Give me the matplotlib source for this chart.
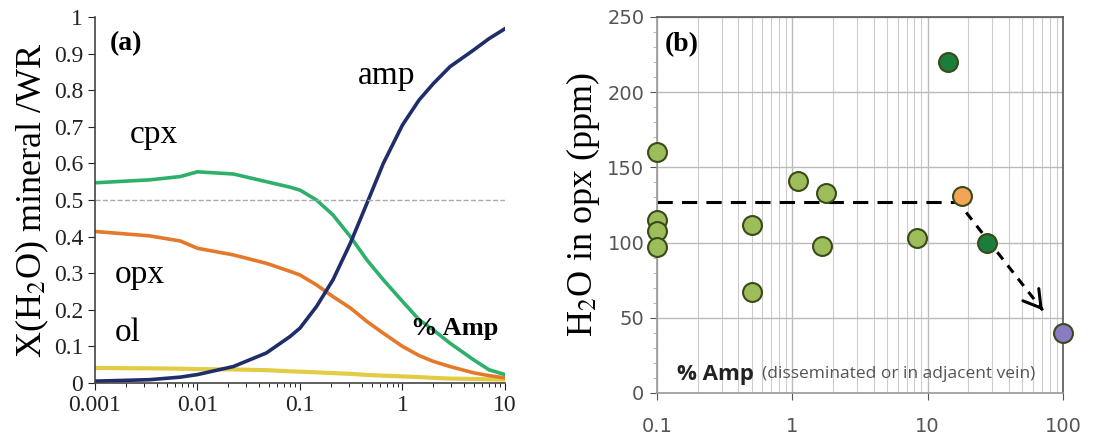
import matplotlib.pyplot as plt
import numpy as np
from matplotlib.ticker import LogLocator, NullFormatter, MultipleLocator

# panel (a): water partitioning vs % amphibole
amp_pct = [0.001, 0.0034, 0.0068, 0.01, 0.0224, 0.047, 0.08, 0.1, 0.145, 0.21, 0.31,
           0.45, 0.65, 1.0, 1.45, 2.0, 2.9, 4.9, 7.0, 10.0]
cpx = [0.547, 0.555, 0.564, 0.577, 0.571, 0.55, 0.535, 0.527, 0.5, 0.459, 0.4,
       0.336, 0.282, 0.223, 0.173, 0.145, 0.109, 0.064, 0.036, 0.023]
opx = [0.414, 0.402, 0.388, 0.368, 0.35, 0.327, 0.305, 0.295, 0.268, 0.236, 0.205,
       0.168, 0.136, 0.1, 0.075, 0.059, 0.045, 0.028, 0.02, 0.014]
amp = [0.005, 0.009, 0.016, 0.023, 0.045, 0.082, 0.127, 0.15, 0.209, 0.282, 0.382,
       0.491, 0.6, 0.705, 0.773, 0.818, 0.864, 0.909, 0.941, 0.968]
ol = [0.041, 0.04, 0.039, 0.038, 0.037, 0.035, 0.032, 0.031, 0.029, 0.027, 0.025,
      0.022, 0.02, 0.018, 0.016, 0.014, 0.012, 0.011, 0.01, 0.009]

# panel (b): H2O in opx vs % amp
pt_x = [0.1, 0.1, 0.1, 0.1, 0.5, 0.5, 1.1, 1.77, 1.66, 8.3]
pt_y = [160, 115, 108, 97, 112, 67, 141, 133, 98, 103]
dk_x = [14.1, 27.4]
dk_y = [220, 100]
or_x = [18.1]
or_y = [131]
pu_x = [100]
pu_y = [40]
trend_x = [0.1, 17.4]
trend_y = [127, 127]
drop_x = [19.3, 71]
drop_y = [120, 55]

plt.rcParams["mathtext.fontset"] = "stix"
serif = ["Liberation Serif", "DejaVu Serif"]
fig = plt.figure(figsize=(11.15, 4.37), dpi=100)

# ---- (a)
ax = fig.add_axes([0.0852, 0.1236, 0.3677, 0.8375])
ax.plot(amp_pct, ol, color="#e3cc45", lw=3)
ax.plot(amp_pct, opx, color="#e5792b", lw=2.6)
ax.plot(amp_pct, cpx, color="#2eb06b", lw=2.6)
ax.plot(amp_pct, amp, color="#1f2d6b", lw=2.6)
ax.axhline(0.5, color="#aaaaaa", ls="--", lw=1)
ax.set_xscale("log")
ax.set_xlim(0.001, 10)
ax.set_ylim(0, 1)
ax.set_yticks(np.arange(0, 1.01, 0.1))
ax.set_yticklabels(["0"] + [f"{v:.1f}" for v in np.arange(0.1, 0.95, 0.1)] + ["1"])
ax.set_xticks([0.001, 0.01, 0.1, 1, 10])
ax.set_xticklabels(["0.001", "0.01", "0.1", "1", "10"])
for s in ["top", "right"]:
    ax.spines[s].set_visible(False)
for s in ["left", "bottom"]:
    ax.spines[s].set_color("#444444")
    ax.spines[s].set_linewidth(1.2)
ax.tick_params(labelsize=17, colors="#222222", length=5)
ax.tick_params(which="minor", length=3)
for lab in ax.get_xticklabels() + ax.get_yticklabels():
    lab.set_family(serif)
ax.set_ylabel("X(H$_2$O) mineral /WR", family=serif, fontsize=26, labelpad=2)
ax.text(0.035, 0.91, "(a)", transform=ax.transAxes, family=serif, fontsize=20, fontweight="bold")
ax.text(0.37, 0.84, "amp", family=serif, fontsize=24, ha="left", va="center")
ax.text(0.0022, 0.678, "cpx", family=serif, fontsize=24, ha="left", va="center")
ax.text(0.00157, 0.295, "opx", family=serif, fontsize=24, ha="left", va="center")
ax.text(0.00157, 0.137, "ol", family=serif, fontsize=24, ha="left", va="center")
ax.text(1.2, 0.15, "% Amp", family=serif, fontsize=19, fontweight="bold", ha="left", va="center")

# ---- (b)
bx = fig.add_axes([0.5892, 0.1007, 0.3641, 0.8604])
bx.set_xscale("log")
bx.set_xlim(0.1, 100)
bx.set_ylim(0, 250)
bx.xaxis.set_minor_locator(LogLocator(base=10, subs=np.arange(2, 10)))
bx.xaxis.set_minor_formatter(NullFormatter())
bx.set_xticks([0.1, 1, 10, 100])
bx.set_xticklabels(["0.1", "1", "10", "100"])
bx.yaxis.set_major_locator(MultipleLocator(50))
bx.yaxis.set_minor_locator(MultipleLocator(10))
bx.grid(which="major", color="#bbbbbb", lw=1)
bx.grid(which="minor", axis="x", color="#cccccc", lw=0.8)
bx.set_axisbelow(True)
for s in ["left", "bottom"]:
    bx.spines[s].set_color("#999999")
    bx.spines[s].set_linewidth(1.2)
for s in ["top", "right"]:
    bx.spines[s].set_color("#555555")
    bx.spines[s].set_linewidth(1.2)
bx.tick_params(labelsize=14, colors="#555555", length=5, pad=12)
bx.tick_params(axis="y", pad=4)
bx.tick_params(which="minor", length=3, colors="#aaaaaa")
bx.tick_params(axis="x", which="minor", length=0)

bx.plot(trend_x, trend_y, color="black", ls=(0, (5, 3)), lw=2.2, zorder=2)
bx.plot(drop_x, drop_y, color="black", ls=(0, (3, 2.5)), lw=2.2, zorder=2)
bx.annotate("", xy=(drop_x[1], drop_y[1]), xytext=(drop_x[1] * 0.97, drop_y[1] + 1.55),
            arrowprops=dict(arrowstyle="->,head_length=0.5,head_width=0.3", color="black", lw=2.2,
                            mutation_scale=24, shrinkA=0, shrinkB=0), zorder=2)
kw = dict(s=185, edgecolors="#3a4a1a", linewidths=1.5, zorder=3, clip_on=False)
bx.scatter(pt_x, pt_y, c="#9dbd5a", **kw)
bx.scatter(dk_x, dk_y, c="#1a7d3c", **kw)
bx.scatter(or_x, or_y, c="#f4a454", **kw)
bx.scatter(pu_x, pu_y, c="#8a7cc4", **kw)

bx.set_ylabel("H$_2$O in opx (ppm)", family=serif, fontsize=26, labelpad=4)
bx.text(0.02, 0.91, "(b)", transform=bx.transAxes, family=serif, fontsize=20, fontweight="bold")
bx.text(0.05, 0.05, "% Amp", transform=bx.transAxes, fontsize=16, fontweight="bold",
        family="Open Sans", color="#222222", va="center")
bx.text(0.258, 0.05, "(disseminated or in adjacent vein)", transform=bx.transAxes,
        fontsize=12.5, family="Open Sans", color="#555555", va="center")

fig.savefig("out.png", dpi=100)
